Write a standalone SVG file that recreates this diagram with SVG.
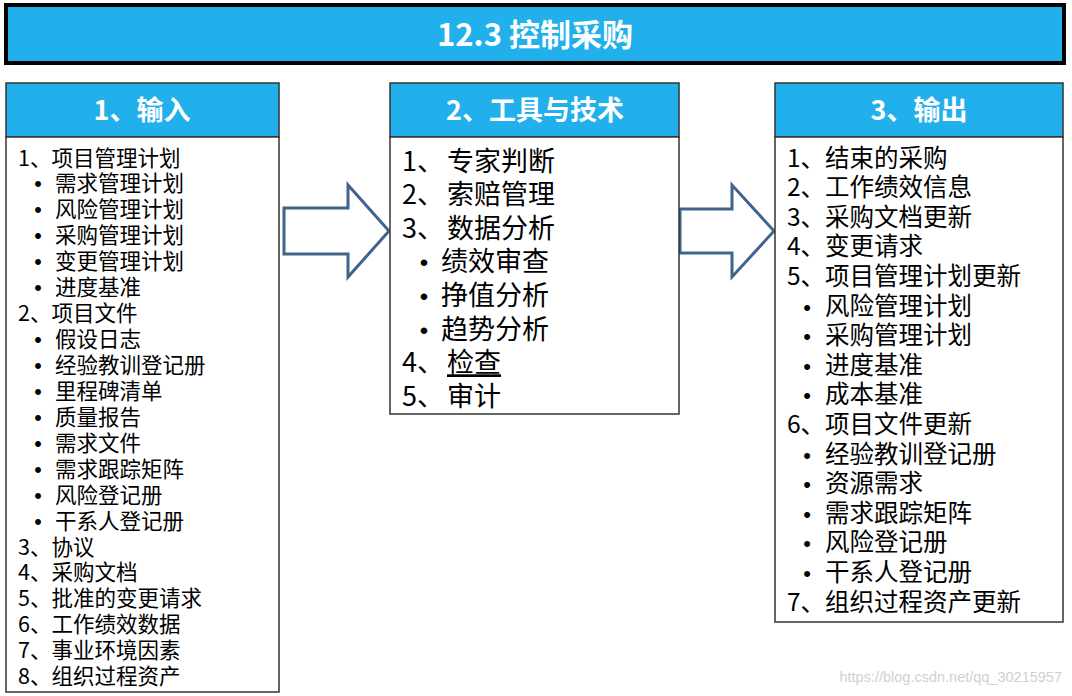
<svg xmlns="http://www.w3.org/2000/svg" width="1072" height="696" viewBox="0 0 1072 696">
<style>
.hdr{fill:#21B0EC;stroke:#333;stroke-width:1.5}
.body{fill:#fff;stroke:#333;stroke-width:1.5}
.ht{font-family:"Noto Sans CJK SC","Noto Sans",sans-serif;font-weight:bold;fill:#fff;text-anchor:middle}
.t{font-family:"Noto Sans CJK SC","Noto Sans",sans-serif;fill:#000}
.b{font-family:"Liberation Sans",sans-serif;fill:#000;text-anchor:middle}
.arrow{fill:#fff;stroke:#41648F;stroke-width:3;stroke-linejoin:miter}
</style>
<rect width="1072" height="696" fill="#fff"/>
<g id="title">
<rect x="6" y="5" width="1058" height="58" fill="#21B0EC" stroke="#000" stroke-width="4"/>
<text class="ht" x="535" y="46" font-size="31">12.3 控制采购</text>
</g>
<g id="connectors">
<path class="arrow" d="M284,208 H348 V185 L389,231 L348,277 V254 H284 Z"/>
<path class="arrow" d="M680,209 H732 V185 L774,231 L732,277 V253 H680 Z"/>
</g>
<g id="inputs">
<rect class="hdr" x="6" y="83" width="273" height="54"/>
<text class="ht" x="142" y="120" font-size="27">1、输入</text>
<rect class="body" x="6" y="137" width="273" height="555"/>
<g class="t" font-size="21.5">
<text x="18" y="165.5">1、项目管理计划</text>
<text x="55" y="191.4">需求管理计划</text>
<text x="55" y="217.4">风险管理计划</text>
<text x="55" y="243.3">采购管理计划</text>
<text x="55" y="269.2">变更管理计划</text>
<text x="55" y="295.2">进度基准</text>
<text x="18" y="321.1">2、项目文件</text>
<text x="55" y="347.0">假设日志</text>
<text x="55" y="372.9">经验教训登记册</text>
<text x="55" y="398.9">里程碑清单</text>
<text x="55" y="424.8">质量报告</text>
<text x="55" y="450.7">需求文件</text>
<text x="55" y="476.7">需求跟踪矩阵</text>
<text x="55" y="502.6">风险登记册</text>
<text x="55" y="528.5">干系人登记册</text>
<text x="18" y="554.5">3、协议</text>
<text x="18" y="580.4">4、采购文档</text>
<text x="18" y="606.3">5、批准的变更请求</text>
<text x="18" y="632.2">6、工作绩效数据</text>
<text x="18" y="658.2">7、事业环境因素</text>
<text x="18" y="684.1">8、组织过程资产</text>
</g>
<g class="b" font-size="21.5">
<text x="38" y="191.4">•</text>
<text x="38" y="217.4">•</text>
<text x="38" y="243.3">•</text>
<text x="38" y="269.2">•</text>
<text x="38" y="295.2">•</text>
<text x="38" y="347.0">•</text>
<text x="38" y="372.9">•</text>
<text x="38" y="398.9">•</text>
<text x="38" y="424.8">•</text>
<text x="38" y="450.7">•</text>
<text x="38" y="476.7">•</text>
<text x="38" y="502.6">•</text>
<text x="38" y="528.5">•</text>
</g>
</g>
<g id="tools">
<rect class="hdr" x="390" y="83" width="289" height="54"/>
<text class="ht" x="535" y="120" font-size="27">2、工具与技术</text>
<rect class="body" x="390" y="137" width="289" height="277"/>
<g class="t" font-size="27">
<text y="170.5"><tspan x="402">1、</tspan><tspan x="447">专家判断</tspan></text>
<text y="204.1"><tspan x="402">2、</tspan><tspan x="447">索赔管理</tspan></text>
<text y="237.8"><tspan x="402">3、</tspan><tspan x="447">数据分析</tspan></text>
<text x="441" y="271.4">绩效审查</text>
<text x="441" y="305.1">挣值分析</text>
<text x="441" y="338.7">趋势分析</text>
<text y="372.3"><tspan x="402">4、</tspan><tspan x="447" text-decoration="underline">检查</tspan></text>
<text y="406.0"><tspan x="402">5、</tspan><tspan x="447">审计</tspan></text>
</g>
<g class="b" font-size="24">
<text x="424" y="271.4">•</text>
<text x="424" y="305.1">•</text>
<text x="424" y="338.7">•</text>
</g>
</g>
<g id="outputs">
<rect class="hdr" x="775" y="83" width="288" height="54"/>
<text class="ht" x="919" y="120" font-size="27">3、输出</text>
<rect class="body" x="775" y="137" width="288" height="485"/>
<g class="t" font-size="24.5">
<text x="787" y="166.5">1、结束的采购</text>
<text x="787" y="196.1">2、工作绩效信息</text>
<text x="787" y="225.7">3、采购文档更新</text>
<text x="787" y="255.3">4、变更请求</text>
<text x="787" y="284.9">5、项目管理计划更新</text>
<text x="825" y="314.5">风险管理计划</text>
<text x="825" y="344.1">采购管理计划</text>
<text x="825" y="373.7">进度基准</text>
<text x="825" y="403.3">成本基准</text>
<text x="787" y="432.9">6、项目文件更新</text>
<text x="825" y="462.5">经验教训登记册</text>
<text x="825" y="492.1">资源需求</text>
<text x="825" y="521.7">需求跟踪矩阵</text>
<text x="825" y="551.3">风险登记册</text>
<text x="825" y="580.9">干系人登记册</text>
<text x="787" y="610.5">7、组织过程资产更新</text>
</g>
<g class="b" font-size="22">
<text x="807" y="314.5">•</text>
<text x="807" y="344.1">•</text>
<text x="807" y="373.7">•</text>
<text x="807" y="403.3">•</text>
<text x="807" y="462.5">•</text>
<text x="807" y="492.1">•</text>
<text x="807" y="521.7">•</text>
<text x="807" y="551.3">•</text>
<text x="807" y="580.9">•</text>
</g>
</g>
<text x="1062" y="682" font-family="Liberation Sans, sans-serif" font-size="14.5" fill="#d0d0d0" text-anchor="end">https://blog.csdn.net/qq_30215957</text>
</svg>
